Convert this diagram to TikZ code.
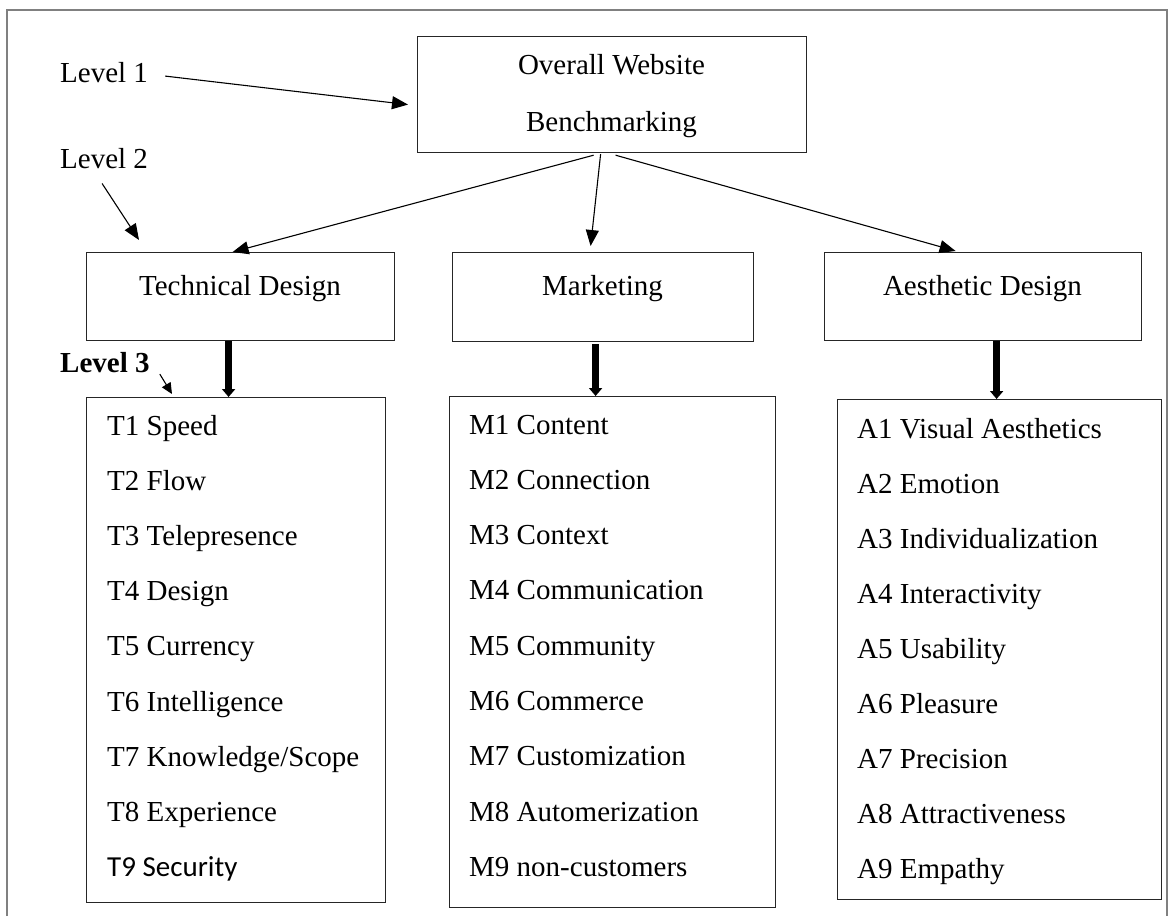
\documentclass[tikz,border=0pt]{standalone}
\usepackage{fontspec}
\setmainfont{Liberation Serif}
\newfontfamily\calibrifont{Carlito}
\usetikzlibrary{arrows.meta}
\begin{document}
\begin{tikzpicture}[x=1pt,y=-1pt,
  box/.style={draw=black!85, line width=1.2pt, inner sep=0pt, anchor=north west},
  txt/.style={inner sep=0pt, anchor=base, font=\fontsize{29}{34}\selectfont},
  item/.style={inner sep=0pt, anchor=base west, font=\fontsize{29}{34}\selectfont},
  arr/.style={-{Triangle[length=16pt,width=13pt]}, line width=1.1pt},
  smallarr/.style={-{Triangle[length=11pt,width=10pt]}, line width=1.1pt},
  thickarr/.style={-{Triangle[length=8pt,width=13pt]}, line width=6.5pt},
]
\useasboundingbox (0,0) rectangle (1169,916);
\draw[gray, line width=1.5pt] (7,916) -- (7,10) -- (1167,10) -- (1167,916);

% level 1
\node[box, minimum width=389pt, minimum height=116pt] (overall) at (417,36) {};
\node[txt] (ovt1) at (611.5,74) {Overall Website};
\node[txt] (ovt2) at (611.5,131) {Benchmarking};

% level 2
\node[box, minimum width=308pt, minimum height=88pt] (tech) at (86,252) {};
\node[txt] (techt) at (240,295) {Technical Design};
\node[box, minimum width=301pt, minimum height=89pt] (mkt) at (452,252) {};
\node[txt] (mktt) at (602.5,295) {Marketing};
\node[box, minimum width=317pt, minimum height=88pt] (aes) at (824,252) {};
\node[txt] (aest) at (982.5,295) {Aesthetic Design};

% level 3
\node[box, minimum width=299pt, minimum height=505pt] (tlist) at (86,397) {};
\node[box, minimum width=326pt, minimum height=511pt] (mlist) at (449,396) {};
\node[box, minimum width=324pt, minimum height=500pt] (alist) at (837,399) {};

\foreach [count=\i] \t in {T1 Speed, T2 Flow, T3 Telepresence, T4 Design, T5 Currency, T6 Intelligence, T7 Knowledge/Scope, T8 Experience, {\calibrifont T9 Security}}
  \node[item] (t\i) at (107,{435+55.2*(\i-1)}) {\t};
\foreach [count=\i] \t in {M1 Content, M2 Connection, M3 Context, M4 Communication, M5 Community, M6 Commerce, M7 Customization, M8 Automerization, M9 non-customers}
  \node[item] (m\i) at (469,{434+55.3*(\i-1)}) {\t};
\foreach [count=\i] \t in {A1 Visual Aesthetics, A2 Emotion, A3 Individualization, A4 Interactivity, A5 Usability, A6 Pleasure, A7 Precision, A8 Attractiveness, A9 Empathy}
  \node[item] (a\i) at (857,{438+55*(\i-1)}) {\t};

% level labels
\node[item] (lvl1) at (60,82) {Level 1};
\node[item] (lvl2) at (60,168) {Level 2};
\node[item, font=\fontsize{29}{34}\selectfont\bfseries] (lvl3) at (60,372) {Level 3};

% connectors
\draw[arr] ([xshift=17pt,yshift=-4pt]lvl1.east) -- ([xshift=-9pt,yshift=-10pt]overall.west);
\draw[arr] ([xshift=-2pt,yshift=-15pt]lvl2.south) -- ([xshift=53pt,yshift=12pt]tech.north west);
\draw[smallarr] ([xshift=10pt,yshift=-12pt]lvl3.east) -- ([xshift=86pt,yshift=3pt]tlist.north west);

\draw[arr] ([xshift=-18.5pt,yshift=-2pt]overall.south) -- ([xshift=-8pt]tech.north);
\draw[arr] ([xshift=-11.5pt,yshift=-1pt]overall.south) -- ([xshift=-12.5pt,yshift=6pt]mkt.north);
\draw[arr] ([xshift=3.5pt,yshift=-2pt]overall.south) -- ([xshift=-27.5pt,yshift=1pt]aes.north);

\draw[thickarr] ([xshift=-12pt]tech.south) -- ([xshift=-12pt]tech.south |- tlist.north);
\draw[thickarr] ([xshift=-7.5pt,yshift=-2pt]mkt.south) -- ([xshift=-7.5pt]mkt.south |- mlist.north);
\draw[thickarr] ([xshift=13.5pt]aes.south) -- ([xshift=13.5pt]aes.south |- alist.north);
\end{tikzpicture}
\end{document}
